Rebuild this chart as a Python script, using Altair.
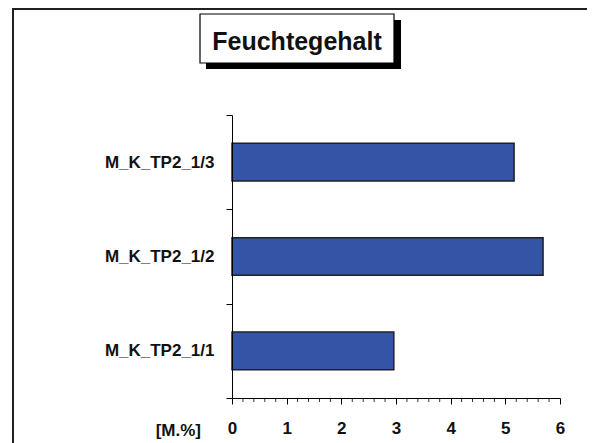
import altair as alt
import pandas as pd

# ---- data ----
categories = ["M_K_TP2_1/3", "M_K_TP2_1/2", "M_K_TP2_1/1"]
values = [5.16, 5.69, 2.96]
major_ticks = [0, 1, 2, 3, 4, 5, 6]
minor_ticks = [0.2, 0.4, 0.6, 0.8, 1.2, 1.4, 1.6, 1.8, 2.2, 2.4, 2.6, 2.8,
               3.2, 3.4, 3.6, 3.8, 4.2, 4.4, 4.6, 4.8, 5.2, 5.4, 5.6, 5.8]
title_text = "Feuchtegehalt"
unit_text = "[M.%]"

FONT = "Liberation Sans"
W, H = 328, 283
BAR_BLUE = "#3454A5"
DARK = "#231F20"

df = pd.DataFrame({"cat": categories, "val": values})
minor_df = pd.DataFrame({"v": minor_ticks})
one = pd.DataFrame({"a": [0]})

xscale = alt.Scale(domain=[0, 6], nice=False, zero=True)

# outer frame (left and top edges visible)
frame = alt.Chart(one).mark_rect(filled=False, stroke=DARK, strokeWidth=2).encode(
    x=alt.value(13 - 232), x2=alt.value(600 - 232),
    y=alt.value(9 - 115), y2=alt.value(470 - 115),
)

bars = alt.Chart(df).mark_bar(color=BAR_BLUE, stroke=DARK, strokeWidth=1.5,
                              height={"band": 0.4}).encode(
    x=alt.X("val:Q", scale=xscale,
            axis=alt.Axis(values=major_ticks, format="d", title=None, grid=False, zindex=1,
                          domainColor="black", domainWidth=1,
                          tickColor="black", tickSize=6, tickWidth=1,
                          labelFont=FONT, labelFontSize=17, labelFontWeight="bold",
                          labelColor="#111111", labelPadding=16, labelFlush=False)),
    y=alt.Y("cat:N", sort=categories,
            scale=alt.Scale(paddingInner=0, paddingOuter=0),
            axis=alt.Axis(title=None, grid=False, tickBand="extent", zindex=1,
                          domainColor="black", domainWidth=1,
                          tickColor="black", tickSize=6, tickWidth=1,
                          labelFont=FONT, labelFontSize=17, labelFontWeight="bold",
                          labelColor="#111111", labelPadding=12)),
)

minor = alt.Chart(minor_df).mark_rule(color="#333333", strokeWidth=1).encode(
    x=alt.X("v:Q", scale=xscale),
    y=alt.value(H), y2=alt.value(H + 4),
)

unit = alt.Chart(one).mark_text(
    text=unit_text, font=FONT, fontSize=17, fontWeight="bold",
    align="right", baseline="alphabetic", color="#111111"
).encode(x=alt.value(201 - 232), y=alt.value(436 - 115))

shadow = alt.Chart(one).mark_rect(fill="black").encode(
    x=alt.value(206 - 232), x2=alt.value(401 - 232),
    y=alt.value(20 - 115), y2=alt.value(69 - 115),
)
box = alt.Chart(one).mark_rect(fill="white", stroke="black", strokeWidth=1.2).encode(
    x=alt.value(200 - 232), x2=alt.value(394 - 232),
    y=alt.value(14 - 115), y2=alt.value(63 - 115),
)
title = alt.Chart(one).mark_text(
    text=title_text, font=FONT, fontSize=25, fontWeight="bold",
    align="center", baseline="alphabetic", color="#111111"
).encode(x=alt.value(297 - 232), y=alt.value(50 - 115))

chart = alt.layer(frame, bars, minor, unit, shadow, box, title).properties(
    width=W, height=H,
    autosize=alt.AutoSizeParams(type="none"),
    padding={"left": 224, "top": 107, "right": 27, "bottom": 45},
).configure_view(stroke=None)

chart.save("out.html", embed_options={"renderer": "svg", "actions": False})
